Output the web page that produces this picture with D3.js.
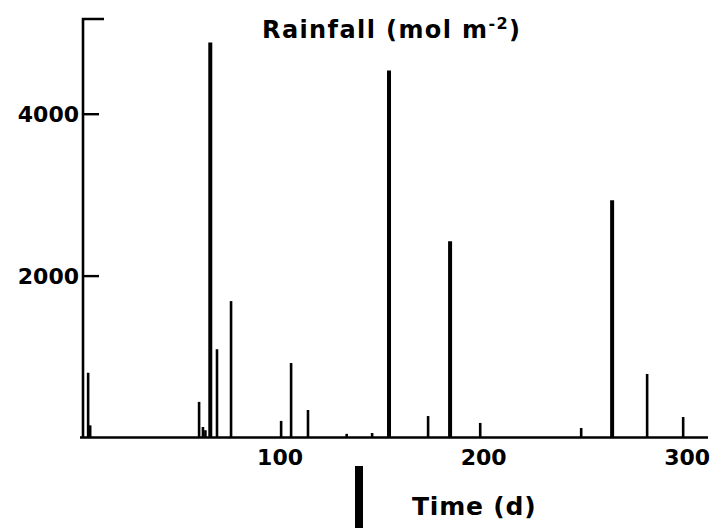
<!DOCTYPE html>
<html>
<head>
<meta charset="utf-8">
<script src="https://cdn.jsdelivr.net/npm/d3@7"></script>
<style>
  html, body { margin: 0; padding: 0; background: #fff; }
  svg { display: block; }
  text { font-family: "DejaVu Sans", sans-serif; font-weight: bold; fill: #000; }
</style>
</head>
<body>
<svg id="chart" width="710" height="528"></svg>
<script>
// Day of year of each rainfall event
const days = [4, 5, 58.5, 60.4, 61.6, 64, 67.3, 74.2, 98.8, 103.7, 112, 131, 143.5, 151.8, 171, 181.8, 196.6, 246.2, 261.4, 278.6, 296.3];
// Rainfall amount (mol m-2)
const rainfall = [800, 150, 440, 130, 90, 4880, 1090, 1685, 205, 920, 340, 45, 55, 4535, 265, 2425, 180, 117, 2930, 785, 253];
const yTicks = [2000, 4000];
const xTicks = [100, 200, 300];

const svg = d3.select("#chart");
const x = d3.scaleLinear().domain([0, 308.5]).range([80, 708]);
const y = d3.scaleLinear().domain([0, 5170]).range([437.5, 19]);

// bars
svg.append("g").selectAll("line").data(days).join("line")
  .attr("x1", d => x(d)).attr("x2", d => x(d))
  .attr("y1", y(0)).attr("y2", (d, i) => y(rainfall[i]))
  .attr("stroke", "#000")
  .attr("stroke-width", (d, i) => rainfall[i] > 2000 ? 4 : 2.6);

// y axis (ticks inward, labels to the left)
const yAxis = d3.axisRight(y).tickValues(yTicks).tickSize(16).tickFormat("");
const gy = svg.append("g").attr("transform", `translate(${x(0) + 3},0)`).call(yAxis);
gy.select(".domain").attr("stroke", "#000").attr("stroke-width", 2.6)
  .attr("d", `M0,${y(0)}V${y(5170)}H21`);
gy.selectAll(".tick line").attr("stroke", "#000").attr("stroke-width", 2.4);
svg.append("g").selectAll("text").data(yTicks).join("text")
  .attr("x", 79).attr("y", d => y(d) + 8)
  .attr("text-anchor", "end").attr("font-size", 22)
  .text(d => d);

// x axis
const xAxis = d3.axisBottom(x).tickValues(xTicks).tickSize(0).tickPadding(12);
const gx = svg.append("g").attr("transform", `translate(0,${y(0)})`).call(xAxis);
gx.select(".domain").attr("stroke", "#000").attr("stroke-width", 2.6)
  .attr("d", `M${x(0)},0H708`);
gx.selectAll(".tick text").attr("font-size", 22).attr("font-family", "DejaVu Sans").attr("font-weight", "bold").attr("fill", "#000").attr("dx", -4);

// title
const title = svg.append("text").attr("x", 262).attr("y", 38).attr("font-size", 24).attr("letter-spacing", 1.4);
title.append("tspan").text("Rainfall (mol m");
title.append("tspan").attr("dy", -9).attr("font-size", 16).text("-2");
title.append("tspan").attr("dy", 9).text(")");

// x label
svg.append("rect").attr("x", 355).attr("y", 466).attr("width", 8).attr("height", 62).attr("fill", "#000");
svg.append("text").attr("x", 412).attr("y", 515).attr("font-size", 25).attr("letter-spacing", 0.8).text("Time (d)");
</script>
</body>
</html>
